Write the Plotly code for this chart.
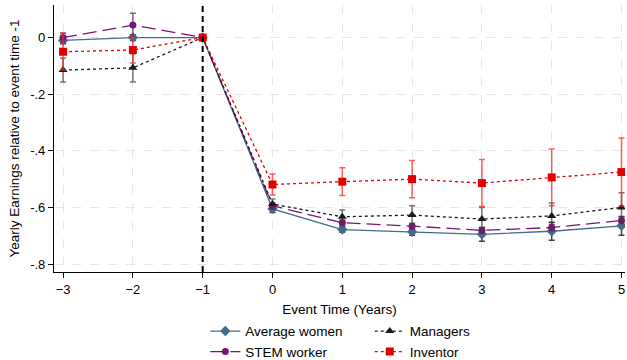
import plotly.graph_objects as go

event_time = [-3, -2, -1, 0, 1, 2, 3, 4, 5]

avg_women = [-0.010, 0.000, 0.0, -0.605, -0.678, -0.686, -0.695, -0.684, -0.665]
avg_women_ci = [0.012, 0.010, 0.0, 0.013, 0.010, 0.012, 0.024, 0.032, 0.033]

stem = [0.000, 0.044, 0.0, -0.594, -0.654, -0.666, -0.681, -0.671, -0.646]
stem_ci = [0.016, 0.042, 0.0, 0.010, 0.010, 0.010, 0.010, 0.012, 0.012]

managers = [-0.115, -0.107, 0.0, -0.588, -0.633, -0.627, -0.641, -0.630, -0.600]
managers_ci = [0.042, 0.050, 0.0, 0.018, 0.024, 0.033, 0.041, 0.046, 0.052]

inventor = [-0.050, -0.044, 0.0, -0.519, -0.509, -0.500, -0.514, -0.494, -0.475]
inventor_ci = [0.065, 0.046, 0.0, 0.037, 0.049, 0.066, 0.083, 0.100, 0.120]

x_ticks = [-3, -2, -1, 0, 1, 2, 3, 4, 5]
y_ticks = [0, -0.2, -0.4, -0.6, -0.8]
y_tick_labels = ["0", "-.2", "-.4", "-.6", "-.8"]
event_line = -1

FONT = "Liberation Sans, Arial, sans-serif"

fig = go.Figure()

def add(name, y, ci, color, err_color, dash, symbol, size, legend):
    fig.add_trace(go.Scatter(
        x=event_time, y=y, name=name, mode="lines+markers",
        line=dict(color=color, width=1.3, dash=dash),
        marker=dict(color=color, symbol=symbol, size=size),
        error_y=dict(type="data", array=ci, visible=True, color=err_color,
                     thickness=1.5, width=3),
        legend=legend,
    ))

add("Average women", avg_women, avg_women_ci, "#436c8c", "rgba(30,30,30,0.85)",
    "solid", "diamond", 8, "legend")
add("STEM worker", stem, stem_ci, "#7b137b", "rgba(90,60,90,0.8)",
    "14px,6px", "circle", 7, "legend")
add("Managers", managers, managers_ci, "#1a1a1a", "rgba(60,60,60,0.7)",
    "3px,3px", "triangle-up", 8, "legend2")
add("Inventor", inventor, inventor_ci, "#e00000", "rgba(255,40,40,0.75)",
    "3px,3px", "square", 8, "legend2")

fig.add_shape(type="line", xref="x", yref="paper", x0=event_line, x1=event_line,
              y0=0, y1=1, line=dict(color="black", width=2, dash="6px,4px"))

axis_common = dict(
    showline=True, linecolor="black", linewidth=1.2,
    ticks="outside", ticklen=5, tickcolor="black",
    showgrid=True, gridcolor="#e6e6e6", griddash="dash", gridwidth=1,
    zeroline=False, tickfont=dict(size=13, color="black", family=FONT),
    automargin=False, ticklabeloverflow="allow",
)

fig.update_layout(
    width=627, height=360,
    margin=dict(l=54, r=2, t=5, b=88, autoexpand=False),
    paper_bgcolor="white", plot_bgcolor="white",
    font=dict(family=FONT, size=13, color="black"),
    xaxis=dict(range=[-3.13, 5.05], tickvals=x_ticks,
               title=dict(text="Event Time (Years)", font=dict(size=13.5), standoff=8),
               **axis_common),
    yaxis=dict(range=[-0.828, 0.115], tickvals=y_ticks, ticktext=y_tick_labels,
               title=dict(text="Yearly Earnings relative to event time -1",
                          font=dict(size=13.5), standoff=7),
               **axis_common),
    legend=dict(x=0.265, y=-0.164, xanchor="left", yanchor="top",
                font=dict(size=13.5), tracegroupgap=0, bgcolor="rgba(0,0,0,0)"),
    legend2=dict(x=0.553, y=-0.164, xanchor="left", yanchor="top",
                 font=dict(size=13.5), tracegroupgap=0, bgcolor="rgba(0,0,0,0)"),
    showlegend=True,
)

# remove the default 8px page margin so the figure fills the window exactly
fig.write_html("out.html",
               config={"displayModeBar": False},
               post_script="document.body.style.margin='0';document.body.style.overflow='hidden';")
